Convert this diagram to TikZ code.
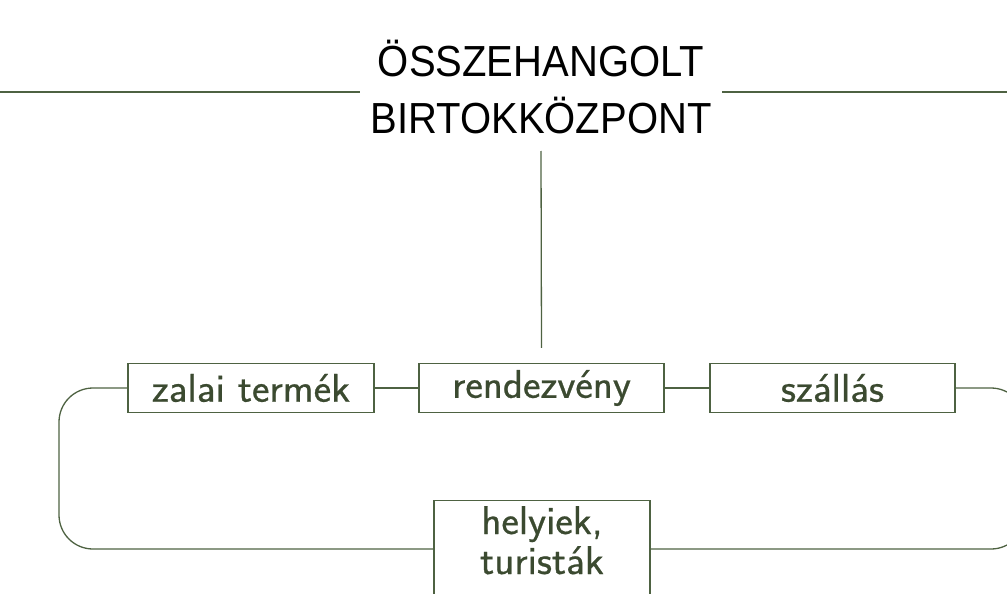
\documentclass[tikz,border=0pt]{standalone}
\usepackage{fontspec}
\newfontfamily\titlefont[FakeStretch=0.92]{Liberation Sans}
\newfontfamily\boxfont[FakeBold=0.6,FakeStretch=1.04]{Latin Modern Sans}
\definecolor{dgreen}{HTML}{3B4A30}
\definecolor{lgreen}{HTML}{4E6242}
\begin{document}
\begin{tikzpicture}[x=1pt,y=-1pt,
  conn/.style={draw=lgreen,line width=1.3pt},
  lbl/.style={text=dgreen,font=\boxfont\fontsize{40}{38}\selectfont},
  box/.style={draw=lgreen,line width=1.3pt,rectangle,minimum height=49pt,inner sep=0pt,lbl},
  ttl/.style={inner sep=0pt,font=\titlefont\fontsize{43.5}{56}\selectfont,text=black}]
\useasboundingbox (0,0) rectangle (1007,594);
\clip (0,0) rectangle (1007,594);
% title
\node[ttl,anchor=base] (t1) at (541,77) {ÖSSZEHANGOLT};
\node[ttl,anchor=base] (t2) at (541,133) {BIRTOKKÖZPONT};
\coordinate (hl1) at (0,92);
\coordinate (hl2) at (360,92);
\coordinate (hr1) at (722,92);
\coordinate (hr2) at (1007,92);
\coordinate (vtop) at (541,151);
\draw[conn] (hl1) -- (hl2);
\draw[conn] (hr1) -- (hr2);
% boxes
\node[box,minimum width=246pt] (z) at (251,388) {zalai termék};
\node[box,minimum width=245pt] (r) at (541.5,388) {rendezvény};
\node[box,minimum width=245pt] (s) at (832.5,388) {szállás};
\node[box,minimum width=216pt,minimum height=150pt,anchor=north] (h) at (542,500) {};
\node[inner sep=0pt,anchor=base,lbl] (h1) at (542,534) {helyiek,};
\node[inner sep=0pt,anchor=base,lbl] (h2) at (542,574) {turisták};
% connectors
\draw[conn] (vtop) -- ([yshift=15pt]r.north);
\draw[conn] (z.east) -- (r.west);
\draw[conn] (r.east) -- (s.west);
\coordinate (lc1) at (59,388);
\coordinate (lc2) at (59,549);
\coordinate (rc1) at (1025,388);
\coordinate (rc2) at (1025,549);
\draw[conn,rounded corners=34pt] (z.west) -- (lc1) -- (lc2) -- (h.west |- lc2);
\draw[conn,rounded corners=34pt] (s.east) -- (rc1) -- (rc2) -- (h.east |- rc2);
\end{tikzpicture}
\end{document}
